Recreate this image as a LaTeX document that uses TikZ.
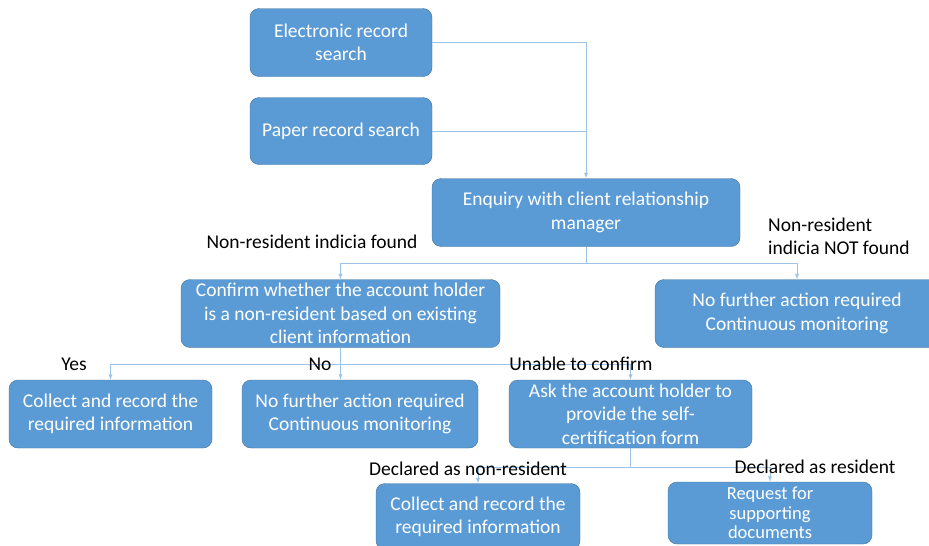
\documentclass[tikz,border=0pt]{standalone}
\usepackage{fontspec}
\setmainfont{Carlito}
\usepackage{tikz}
\usepackage{xcolor}
\usetikzlibrary{shapes.geometric, arrows, positioning}
\definecolor{boxblue}{HTML}{5B9BD5}
\definecolor{boxedge}{HTML}{41719C}
\definecolor{linkblue}{HTML}{9DC3E6}
\tikzstyle{block} = [rectangle, draw=boxedge, rounded corners=9pt, fill=boxblue, text=white, align=center, minimum height=68pt, inner sep=2pt, font=\fontsize{19.5}{23.4}\selectfont]
\tikzstyle{lbl} = [inner sep=0, text=black, font=\fontsize{19.5}{23.4}\selectfont]
\tikzstyle{link} = [draw=linkblue, line width=0.9pt]
\tikzstyle{line} = [link, ->, >=latex]

\begin{document}
\begin{tikzpicture}[x=1pt, y=-1pt]
\useasboundingbox (0,0) rectangle (929,546);

\node [block, minimum width=182pt] (E) at (341,42.5) {Electronic record\\search};
\node [block, minimum width=182pt, minimum height=67pt] (P) at (341,131) {Paper record search};
\node [block, minimum width=308pt] (Q) at (586,212.5) {Enquiry with client relationship\\manager};
\node [block, minimum width=319pt] (C) at (340.5,313.5) {Confirm whether the account holder\\is a non-resident based on existing\\client information};
\node [block, minimum width=284pt] (N1) at (797,313.5) {No further action required\\Continuous monitoring};
\node [block, minimum width=203pt] (Y) at (110.5,414) {Collect and record the\\required information};
\node [block, minimum width=236pt] (N2) at (360,414) {No further action required\\Continuous monitoring};
\node [block, minimum width=243pt] (A) at (630.5,414) {Ask the account holder to\\provide the self-\\certification form};
\node [block, minimum width=204pt, minimum height=66pt] (D1) at (478,516.5) {Collect and record the\\required information};
\node [block, minimum width=204pt, minimum height=62pt, font=\fontsize{18.5}{19.5}\selectfont] (D2) at (770,513) {Request for\\supporting\\documents};

\coordinate (q1) at (586,263);
\coordinate (c1) at (340.5,364);
\coordinate (a1) at (630.5,467);

\path [line] (E) -| (Q);
\path [link] (P) -- (P -| Q);

\path [link] (Q) -- (q1);
\path [line] (q1) -| (C);
\path [line] (q1) -| (N1);

\path [link] (C) -- (c1);
\path [line] (c1) -| (Y);
\path [line] (c1) -- (c1 |- N2.north);
\path [line] (c1) -| (A);

\path [link] (A) -- (a1);
\path [line] (a1) -| (D1);
\path [line] (a1) -| (D2);

\node [lbl] (found) at (312,242) {Non-resident indicia found};
\node [lbl, align=left, anchor=west] (notfound) at (768,236) {Non-resident\\indicia NOT found};
\node [lbl] (yes) at (74,364) {Yes};
\node [lbl] (no) at (320,364) {No};
\node [lbl] (unable) at (581,364) {Unable to confirm};
\node [lbl] (decnon) at (468,469) {Declared as non-resident};
\node [lbl] (decres) at (815,467) {Declared as resident};

\end{tikzpicture}
\end{document}
